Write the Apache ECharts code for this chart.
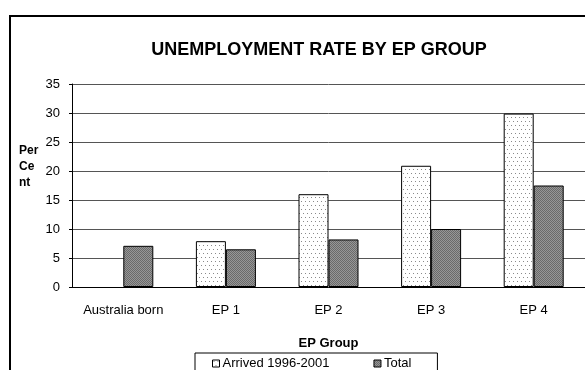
<!DOCTYPE html>
<html>
<head>
<meta charset="utf-8">
<script src="https://cdn.jsdelivr.net/npm/echarts@6/dist/echarts.min.js"></script>
<style>
  html, body { margin: 0; padding: 0; background: #fff; }
  #chart { width: 585px; height: 370px; }
</style>
</head>
<body>
<div id="chart"></div>
<script>
// Unemployment rate (per cent) by EP group
const categories = ['Australia born', 'EP 1', 'EP 2', 'EP 3', 'EP 4'];
const arrived = [null, 7.9, 16.0, 20.9, 29.9];
const total = [7.1, 6.5, 8.2, 10.0, 17.5];
const seriesNames = ['Arrived 1996-2001', 'Total'];
const yTicks = { min: 0, max: 35, interval: 5 };

const FONT = '"Liberation Sans", Arial, Helvetica, sans-serif';

// Sparse dot fill for the "arrived" bars
function dotPattern() {
  const c = document.createElement('canvas');
  c.width = 4; c.height = 8;
  const g = c.getContext('2d');
  g.fillStyle = '#ffffff';
  g.fillRect(0, 0, 4, 8);
  g.fillStyle = '#8a8a8a';
  g.fillRect(1, 1, 1, 1);
  g.fillRect(3, 5, 1, 1);
  return c;
}
// Fine checker fill for the "total" bars
function checkerPattern() {
  const c = document.createElement('canvas');
  c.width = 2; c.height = 2;
  const g = c.getContext('2d');
  g.fillStyle = '#6a6a6a';
  g.fillRect(0, 0, 2, 2);
  g.fillStyle = '#979797';
  g.fillRect(1, 0, 1, 1);
  g.fillRect(0, 1, 1, 1);
  return c;
}

const dotFill = { image: dotPattern(), repeat: 'repeat' };
const greyFill = { image: checkerPattern(), repeat: 'repeat' };

const chart = echarts.init(document.getElementById('chart'), null, { renderer: 'canvas' });

chart.setOption({
  animation: false,
  backgroundColor: '#ffffff',
  title: {
    text: 'UNEMPLOYMENT RATE BY EP GROUP',
    left: 314,
    top: 36,
    textAlign: 'center',
    textStyle: { fontFamily: FONT, fontSize: 18, fontWeight: 'bold', color: '#000' }
  },
  grid: { left: 72, top: 84, width: 518, height: 203, containLabel: false },
  legend: {
    left: 195,
    top: 353,
    padding: [4, 26, 10, 17],
    itemWidth: 7,
    itemHeight: 7,
    itemGap: 44,
    itemStyle: { borderColor: '#000', borderWidth: 1 },
    borderColor: '#000',
    borderWidth: 1,
    textStyle: { fontFamily: FONT, fontSize: 13, color: '#000', padding: [0, 0, 0, -2] },
    data: [
      { name: seriesNames[0], icon: 'rect' },
      { name: seriesNames[1], icon: 'rect' }
    ]
  },
  xAxis: {
    type: 'category',
    data: categories,
    name: 'EP Group',
    nameLocation: 'middle',
    nameGap: 50,
    nameTextStyle: { fontFamily: FONT, fontSize: 13, fontWeight: 'bold', color: '#000' },
    axisLine: { lineStyle: { color: '#000', width: 1 } },
    axisTick: { length: 5, interval: 0, lineStyle: { color: '#000' } },
    axisLabel: { fontFamily: FONT, fontSize: 13, color: '#000', margin: 17, interval: 0 }
  },
  yAxis: {
    type: 'value',
    min: yTicks.min,
    max: yTicks.max,
    interval: yTicks.interval,
    axisLine: { show: true, lineStyle: { color: '#000', width: 1 } },
    axisTick: { show: true, length: 3, lineStyle: { color: '#000' } },
    axisLabel: { fontFamily: FONT, fontSize: 13, color: '#000', margin: 12 },
    splitLine: { lineStyle: { color: '#555', width: 1 } }
  },
  graphic: [
    {
      type: 'rect',
      shape: { x: 10, y: 16, width: 620, height: 420 },
      style: { fill: 'none', stroke: '#000', lineWidth: 2 },
      silent: true
    },
    {
      type: 'text',
      left: 19,
      top: 143,
      style: {
        text: 'Per\nCe\nnt',
        fontFamily: FONT,
        fontSize: 12,
        fontWeight: 'bold',
        lineHeight: 16,
        fill: '#000'
      }
    }
  ],
  series: [
    {
      name: seriesNames[0],
      type: 'bar',
      data: arrived,
      barWidth: 30,
      barGap: '0%',
      itemStyle: { color: dotFill, borderColor: '#000', borderWidth: 1 }
    },
    {
      name: seriesNames[1],
      type: 'bar',
      data: total,
      barWidth: 30,
      itemStyle: { color: greyFill, borderColor: '#000', borderWidth: 1 }
    }
  ]
});
</script>
</body>
</html>
